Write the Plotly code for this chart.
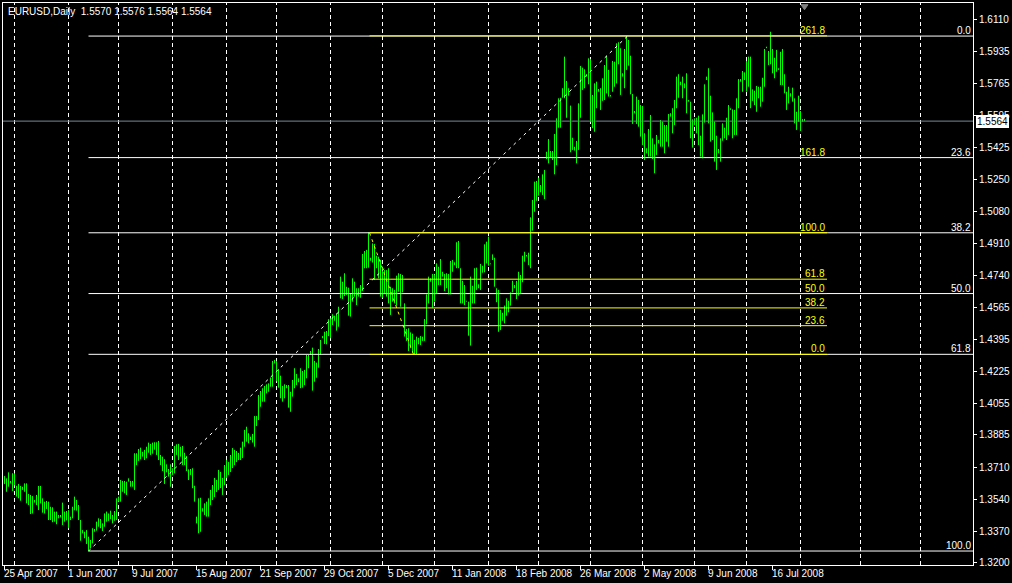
import plotly.graph_objects as go

# ---------------- data ----------------
symbol_title = "EURUSD,Daily"
last_bar_ohlc = ["1.5570", "1.5576", "1.5564", "1.5564"]
bid_price = 1.5564

high = [
    1.3665, 1.3653, 1.3685, 1.3639, 1.3680, 1.3680, 1.3613, 1.3623, 1.3612, 1.3608,
    1.3626, 1.3626, 1.3569, 1.3564, 1.3558, 1.3537, 1.3564, 1.3612, 1.3612, 1.3546,
    1.3528, 1.3532, 1.3528, 1.3501, 1.3498, 1.3475, 1.3475, 1.3457, 1.3457, 1.3523,
    1.3475, 1.3478, 1.3483, 1.3448, 1.3501, 1.3555, 1.3537, 1.3510, 1.3430, 1.3376,
    1.3367, 1.3376, 1.3341, 1.3323, 1.3386, 1.3382, 1.3421, 1.3439, 1.3435, 1.3412,
    1.3465, 1.3475, 1.3465, 1.3480, 1.3457, 1.3478, 1.3546, 1.3555, 1.3644, 1.3639,
    1.3639, 1.3635, 1.3653, 1.3639, 1.3639, 1.3787, 1.3787, 1.3810, 1.3817, 1.3795,
    1.3805, 1.3822, 1.3844, 1.3837, 1.3844, 1.3846, 1.3846, 1.3853, 1.3778, 1.3769,
    1.3755, 1.3728, 1.3703, 1.3728, 1.3707, 1.3826, 1.3835, 1.3837, 1.3822, 1.3826,
    1.3790, 1.3772, 1.3701, 1.3703, 1.3707, 1.3613, 1.3448, 1.3546, 1.3549, 1.3493,
    1.3519, 1.3528, 1.3546, 1.3591, 1.3617, 1.3655, 1.3644, 1.3698, 1.3687, 1.3655,
    1.3724, 1.3751, 1.3740, 1.3778, 1.3815, 1.3805, 1.3799, 1.3789, 1.3817, 1.3849,
    1.3912, 1.3929, 1.3894, 1.3876, 1.3890, 1.3986, 1.3986, 1.4099, 1.4120, 1.4135,
    1.4147, 1.4156, 1.4161, 1.4191, 1.4281, 1.4286, 1.4281, 1.4238, 1.4202, 1.4147,
    1.4156, 1.4152, 1.4152, 1.4116, 1.4179, 1.4242, 1.4211, 1.4188, 1.4242, 1.4227,
    1.4233, 1.4313, 1.4313, 1.4334, 1.4352, 1.4281, 1.4272, 1.4345, 1.4393, 1.4414,
    1.4437, 1.4441, 1.4504, 1.4509, 1.4531, 1.4523, 1.4536, 1.4571, 1.4732, 1.4705,
    1.4750, 1.4678, 1.4673, 1.4643, 1.4723, 1.4705, 1.4670, 1.4670, 1.4687, 1.4853,
    1.4869, 1.4875, 1.4969, 1.4833, 1.4910, 1.4907, 1.4844, 1.4839, 1.4821, 1.4785,
    1.4767, 1.4767, 1.4777, 1.4678, 1.4670, 1.4661, 1.4737, 1.4750, 1.4746, 1.4741,
    1.4589, 1.4452, 1.4456, 1.4434, 1.4427, 1.4393, 1.4411, 1.4405, 1.4414, 1.4411,
    1.4505, 1.4637, 1.4732, 1.4723, 1.4746, 1.4744, 1.4803, 1.4785, 1.4826, 1.4758,
    1.4746, 1.4750, 1.4746, 1.4816, 1.4821, 1.4809, 1.4916, 1.4923, 1.4777, 1.4710,
    1.4687, 1.4603, 1.4598, 1.4732, 1.4683, 1.4777, 1.4780, 1.4691, 1.4800, 1.4790,
    1.4905, 1.4919, 1.4946, 1.4803, 1.4851, 1.4833, 1.4670, 1.4661, 1.4554, 1.4539,
    1.4577, 1.4616, 1.4603, 1.4648, 1.4710, 1.4687, 1.4709, 1.4758, 1.4741, 1.4844,
    1.4865, 1.4848, 1.4860, 1.5049, 1.5142, 1.5240, 1.5244, 1.5261, 1.5222, 1.5279,
    1.5303, 1.5400, 1.5468, 1.5404, 1.5404, 1.5495, 1.5579, 1.5686, 1.5689, 1.5740,
    1.5909, 1.5779, 1.5740, 1.5647, 1.5475, 1.5427, 1.5458, 1.5659, 1.5859, 1.5850,
    1.5841, 1.5815, 1.5900, 1.5896, 1.5704, 1.5766, 1.5775, 1.5736, 1.5740, 1.5793,
    1.5864, 1.5914, 1.5838, 1.5704, 1.5886, 1.5882, 1.5980, 1.5986, 1.5954, 1.5820,
    1.5950, 1.6019, 1.5998, 1.5914, 1.5709, 1.5618, 1.5695, 1.5677, 1.5650, 1.5645,
    1.5499, 1.5419, 1.5522, 1.5597, 1.5472, 1.5440, 1.5490, 1.5463, 1.5570, 1.5561,
    1.5543, 1.5543, 1.5602, 1.5606, 1.5633, 1.5677, 1.5802, 1.5815, 1.5775, 1.5802,
    1.5766, 1.5820, 1.5677, 1.5668, 1.5574, 1.5579, 1.5582, 1.5593, 1.5486, 1.5600,
    1.5761, 1.5802, 1.5847, 1.5700, 1.5611, 1.5561, 1.5486, 1.5415, 1.5472, 1.5552,
    1.5529, 1.5582, 1.5650, 1.5633, 1.5627, 1.5624, 1.5686, 1.5789, 1.5789, 1.5832,
    1.5825, 1.5886, 1.5909, 1.5909, 1.5734, 1.5727, 1.5752, 1.5748, 1.5748, 1.5796,
    1.5950, 1.5962, 1.5939, 1.6042, 1.5950, 1.5903, 1.5945, 1.5847, 1.5935, 1.5950,
    1.5815, 1.5721, 1.5748, 1.5713, 1.5743, 1.5686, 1.5614, 1.5700, 1.5618, 1.5575,
    1.5576,
]

low = [
    1.3623, 1.3581, 1.3608, 1.3626, 1.3585, 1.3617, 1.3555, 1.3546, 1.3533, 1.3591,
    1.3581, 1.3519, 1.3510, 1.3462, 1.3465, 1.3523, 1.3510, 1.3483, 1.3519, 1.3469,
    1.3465, 1.3489, 1.3430, 1.3430, 1.3418, 1.3421, 1.3407, 1.3439, 1.3444, 1.3403,
    1.3421, 1.3428, 1.3386, 1.3430, 1.3439, 1.3482, 1.3480, 1.3430, 1.3319, 1.3359,
    1.3332, 1.3302, 1.3264, 1.3279, 1.3305, 1.3367, 1.3373, 1.3394, 1.3386, 1.3371,
    1.3394, 1.3421, 1.3425, 1.3435, 1.3412, 1.3426, 1.3430, 1.3528, 1.3528, 1.3581,
    1.3573, 1.3564, 1.3635, 1.3608, 1.3608, 1.3591, 1.3724, 1.3746, 1.3755, 1.3769,
    1.3751, 1.3760, 1.3790, 1.3778, 1.3785, 1.3806, 1.3778, 1.3751, 1.3724, 1.3692,
    1.3623, 1.3685, 1.3662, 1.3608, 1.3671, 1.3680, 1.3778, 1.3751, 1.3769, 1.3724,
    1.3724, 1.3692, 1.3644, 1.3671, 1.3600, 1.3528, 1.3412, 1.3359, 1.3367, 1.3475,
    1.3457, 1.3448, 1.3448, 1.3510, 1.3537, 1.3553, 1.3580, 1.3591, 1.3601, 1.3564,
    1.3617, 1.3655, 1.3671, 1.3687, 1.3708, 1.3724, 1.3740, 1.3751, 1.3751, 1.3762,
    1.3822, 1.3849, 1.3840, 1.3858, 1.3844, 1.3822, 1.3933, 1.3965, 1.4036, 1.4063,
    1.4063, 1.4108, 1.4116, 1.4143, 1.4143, 1.4268, 1.4174, 1.4138, 1.4081, 1.4063,
    1.4081, 1.4135, 1.4031, 1.4009, 1.4090, 1.4135, 1.4152, 1.4167, 1.4135, 1.4138,
    1.4152, 1.4188, 1.4242, 1.4313, 1.4122, 1.4170, 1.4191, 1.4245, 1.4313, 1.4402,
    1.4372, 1.4370, 1.4414, 1.4402, 1.4473, 1.4496, 1.4443, 1.4464, 1.4616, 1.4612,
    1.4628, 1.4634, 1.4523, 1.4518, 1.4598, 1.4625, 1.4580, 1.4625, 1.4619, 1.4655,
    1.4777, 1.4777, 1.4780, 1.4817, 1.4807, 1.4714, 1.4777, 1.4723, 1.4625, 1.4619,
    1.4643, 1.4625, 1.4589, 1.4527, 1.4598, 1.4589, 1.4577, 1.4651, 1.4571, 1.4648,
    1.4411, 1.4388, 1.4334, 1.4349, 1.4325, 1.4317, 1.4313, 1.4370, 1.4366, 1.4388,
    1.4388, 1.4477, 1.4589, 1.4705, 1.4566, 1.4598, 1.4643, 1.4687, 1.4687, 1.4732,
    1.4655, 1.4670, 1.4637, 1.4637, 1.4758, 1.4794, 1.4777, 1.4777, 1.4589, 1.4589,
    1.4580, 1.4598, 1.4416, 1.4363, 1.4589, 1.4589, 1.4661, 1.4670, 1.4661, 1.4753,
    1.4755, 1.4803, 1.4790, 1.4798, 1.4821, 1.4678, 1.4595, 1.4437, 1.4447, 1.4496,
    1.4482, 1.4523, 1.4541, 1.4577, 1.4648, 1.4670, 1.4612, 1.4630, 1.4643, 1.4702,
    1.4812, 1.4839, 1.4794, 1.4777, 1.4978, 1.5079, 1.5138, 1.5165, 1.5183, 1.5169,
    1.5147, 1.5361, 1.5338, 1.5368, 1.5356, 1.5279, 1.5329, 1.5529, 1.5529, 1.5689,
    1.5686, 1.5582, 1.5700, 1.5397, 1.5410, 1.5406, 1.5338, 1.5410, 1.5582, 1.5731,
    1.5740, 1.5802, 1.5761, 1.5561, 1.5526, 1.5507, 1.5633, 1.5721, 1.5624, 1.5672,
    1.5677, 1.5713, 1.5695, 1.5695, 1.5721, 1.5748, 1.5766, 1.5868, 1.5704, 1.5802,
    1.5740, 1.5838, 1.5861, 1.5707, 1.5549, 1.5606, 1.5549, 1.5534, 1.5481, 1.5436,
    1.5356, 1.5392, 1.5374, 1.5374, 1.5361, 1.5285, 1.5383, 1.5445, 1.5427, 1.5427,
    1.5392, 1.5454, 1.5427, 1.5588, 1.5499, 1.5543, 1.5633, 1.5689, 1.5757, 1.5686,
    1.5740, 1.5606, 1.5668, 1.5472, 1.5422, 1.5543, 1.5499, 1.5436, 1.5374, 1.5365,
    1.5556, 1.5784, 1.5552, 1.5454, 1.5463, 1.5347, 1.5303, 1.5392, 1.5347, 1.5459,
    1.5472, 1.5463, 1.5490, 1.5624, 1.5472, 1.5490, 1.5490, 1.5633, 1.5775, 1.5721,
    1.5784, 1.5721, 1.5748, 1.5633, 1.5672, 1.5650, 1.5614, 1.5686, 1.5641, 1.5668,
    1.5748, 1.5954, 1.5864, 1.5868, 1.5820, 1.5793, 1.5828, 1.5838, 1.5757, 1.5757,
    1.5713, 1.5624, 1.5659, 1.5695, 1.5668, 1.5552, 1.5517, 1.5561, 1.5511, 1.5561,
    1.5564,
]

date_tick_idx = [0, 32, 64, 96, 128, 160, 192, 224, 256, 288, 320, 352, 384]
date_tick_text = ["25 Apr 2007", "1 Jun 2007", "9 Jul 2007", "15 Aug 2007",
                  "21 Sep 2007", "29 Oct 2007", "5 Dec 2007", "11 Jan 2008",
                  "18 Feb 2008", "26 Mar 2008", "2 May 2008", "9 Jun 2008",
                  "16 Jul 2008"]
month_grid_idx = [5, 32, 57, 84, 111, 136, 163, 189, 215, 242, 267, 293,
                  319, 345, 371, 398, 428, 458]
price_ticks = [1.6110, 1.5935, 1.5765, 1.5595, 1.5425, 1.5250, 1.5080, 1.4910,
               1.4740, 1.4565, 1.4395, 1.4225, 1.4055, 1.3885, 1.3710, 1.3540,
               1.3370, 1.3200]

# Fibonacci objects: anchor 1 (100 %) and anchor 2 (0 %)
fibo_main_idx = [42, 311.5]
fibo_main_price = [1.3264, 1.6019]
fibo_main_levels = [0.0, 23.6, 38.2, 50.0, 61.8, 100.0]

fibo_sub_idx = [182.5, 204.5]
fibo_sub_price = [1.4967, 1.4316]
fibo_sub_levels = [0.0, 23.6, 38.2, 50.0, 61.8, 100.0, 161.8, 261.8]
fibo_sub_end_idx = 411.25

# ---------------- styling ----------------
FONT = "Liberation Sans, Arial, sans-serif"
FS = 10
BAR_GREEN = "#00FF00"
YELLOW = "#FFFF00"
WHITE = "#FFFFFF"
BID_GRAY = "#778899"

X_RANGE = [-0.75, 484.25]
Y_RANGE = [1.318925, 1.619595]


def fib_price(p1, p2, lvl):
    return p2 + (p1 - p2) * lvl / 100.0


fig = go.Figure()

# price bars as high-low vertical strokes
xs, ys = [], []
for i, (h, l) in enumerate(zip(high, low)):
    xs += [i, i, None]
    ys += [l, h, None]
fig.add_trace(go.Scatter(x=xs, y=ys, mode="lines",
                         line=dict(color=BAR_GREEN, width=1),
                         hoverinfo="skip", showlegend=False))

shapes = []
# vertical dashed grid
for g in month_grid_idx:
    shapes.append(dict(type="line", xref="x", yref="paper", x0=g, x1=g, y0=0, y1=1,
                       line=dict(color=WHITE, width=1, dash="4px,3px"), layer="below"))

# bid line
shapes.append(dict(type="line", xref="x", yref="y", x0=X_RANGE[0], x1=X_RANGE[1],
                   y0=bid_price, y1=bid_price, line=dict(color=BID_GRAY, width=1)))

# chart-shift marker above the last bar
last_i = len(high) - 1
shapes.append(dict(type="path", xref="x", yref="paper",
                   path=f"M {last_i - 1.75},0.997 L {last_i + 1.75},0.997 L {last_i},0.988 Z",
                   fillcolor="#808080", line=dict(color="#808080", width=1)))

# main fibo (white)
for lvl in fibo_main_levels:
    p = fib_price(fibo_main_price[0], fibo_main_price[1], lvl)
    shapes.append(dict(type="line", xref="x", yref="y", x0=fibo_main_idx[0], x1=X_RANGE[1],
                       y0=p, y1=p, line=dict(color=WHITE, width=1)))
shapes.append(dict(type="line", xref="x", yref="y",
                   x0=fibo_main_idx[0], x1=fibo_main_idx[1],
                   y0=fibo_main_price[0], y1=fibo_main_price[1],
                   line=dict(color=WHITE, width=1, dash="3px,4px")))

# secondary fibo (yellow)
for lvl in fibo_sub_levels:
    p = fib_price(fibo_sub_price[0], fibo_sub_price[1], lvl)
    shapes.append(dict(type="line", xref="x", yref="y", x0=fibo_sub_idx[0], x1=fibo_sub_end_idx,
                       y0=p, y1=p, line=dict(color=YELLOW, width=1)))
shapes.append(dict(type="line", xref="x", yref="y",
                   x0=fibo_sub_idx[0], x1=fibo_sub_idx[1],
                   y0=fibo_sub_price[0], y1=fibo_sub_price[1],
                   line=dict(color=YELLOW, width=1, dash="3px,4px")))

annotations = []
for lvl in fibo_main_levels:
    p = fib_price(fibo_main_price[0], fibo_main_price[1], lvl)
    annotations.append(dict(xref="paper", yref="y", x=1, y=p, xanchor="right", yanchor="bottom",
                            yshift=-2, text=f"{lvl:.1f}", showarrow=False,
                            font=dict(family=FONT, size=FS, color=WHITE)))
for lvl in fibo_sub_levels:
    p = fib_price(fibo_sub_price[0], fibo_sub_price[1], lvl)
    annotations.append(dict(xref="x", yref="y", x=fibo_sub_end_idx, y=p, xanchor="right",
                            yanchor="bottom", yshift=-2, text=f"{lvl:.1f}", showarrow=False,
                            font=dict(family=FONT, size=FS, color=YELLOW)))

for ti, tt in zip(date_tick_idx, date_tick_text):
    annotations.append(dict(xref="x", yref="paper", x=ti, y=0, xanchor="left", yanchor="top",
                            xshift=-3, yshift=-1, text=tt, showarrow=False,
                            font=dict(family=FONT, size=FS, color=WHITE)))

title = symbol_title + "\u00a0\u00a0" + " ".join(last_bar_ohlc)
annotations.append(dict(xref="paper", yref="paper", x=0, y=1, xanchor="left", yanchor="top",
                        xshift=3, yshift=-1, text=title, showarrow=False,
                        font=dict(family=FONT, size=FS, color=WHITE)))

annotations.append(dict(xref="paper", yref="y", x=1, y=bid_price, xanchor="left",
                        yanchor="middle", xshift=3, text=f"{bid_price:.4f}", showarrow=False,
                        bgcolor=WHITE, borderpad=0, borderwidth=1, bordercolor=WHITE,
                        font=dict(family=FONT, size=FS, color="#000000")))

fig.update_layout(
    width=1012, height=583,
    margin=dict(l=3, r=39, t=3, b=18, pad=0, autoexpand=False),
    paper_bgcolor="#000000", plot_bgcolor="#000000",
    showlegend=False,
    shapes=shapes, annotations=annotations,
    xaxis=dict(range=X_RANGE, showgrid=False, zeroline=False, showline=True,
               linecolor=WHITE, linewidth=1, mirror=True,
               tickvals=date_tick_idx, ticks="outside", ticklen=4, tickcolor=WHITE,
               showticklabels=False, automargin=False, fixedrange=True),
    yaxis=dict(range=Y_RANGE, side="right", showgrid=False, zeroline=False, showline=True,
               linecolor=WHITE, linewidth=1, mirror=True,
               tickvals=price_ticks, ticktext=[f"{v:.4f}" for v in price_ticks],
               ticks="outside", ticklen=3, tickcolor=WHITE,
               tickfont=dict(family=FONT, size=FS, color=WHITE),
               automargin=False, fixedrange=True),
)

fig.write_html(
    "out.html",
    config={"displayModeBar": False, "staticPlot": True},
    post_script="document.body.style.margin='0';document.body.style.background='#000';",
)
